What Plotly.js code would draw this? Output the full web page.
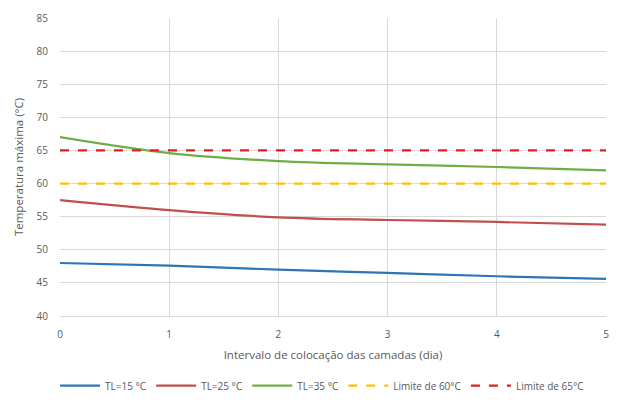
<!DOCTYPE html>
<html><head><meta charset="utf-8">
<script src="https://cdn.plot.ly/plotly-3.0.1.min.js"></script>
<style>html,body{margin:0;padding:0;background:#fff}#c{width:620px;height:407px}</style>
</head><body><div id="c"></div>
<script>
const days = [0, 1, 2, 3, 4, 5];
const tl15 = [48.0, 47.6, 47.0, 46.5, 46.0, 45.6];
const tl25 = [57.5, 56.0, 54.9, 54.5, 54.2, 53.8];
const tl35 = [67.0, 64.6, 63.4, 62.9, 62.5, 62.0];
const lim60 = [60, 60, 60, 60, 60, 60];
const lim65 = [65, 65, 65, 65, 65, 65];
const names = ['TL=15 °C', 'TL=25 °C', 'TL=35 °C', 'Limite de 60°C', 'Limite de 65°C'];
const colors = ['#2e75b6', '#c0504d', '#70ad47', '#ffc000', '#e02020'];
const series = [tl15, tl25, tl35, lim60, lim65];
const dashes = ['solid', 'solid', 'solid', 'dash', 'dash'];

const traces = series.map((s, i) => ({
  x: days, y: s, name: names[i], mode: 'lines',
  line: {color: colors[i], width: 2.2, dash: dashes[i], shape: i < 3 ? 'spline' : 'linear'}
}));

const layout = {
  width: 620, height: 407,
  margin: {l: 60, r: 14, t: 18, b: 91, autoexpand: false},
  paper_bgcolor: '#fff', plot_bgcolor: '#fff',
  font: {family: 'Open Sans, Liberation Sans, sans-serif', size: 10, color: '#595959'},
  showlegend: true,
  legend: {orientation: 'h', x: 0.48, xanchor: 'center', y: -0.185, yanchor: 'top',
           font: {size: 10}, itemwidth: 40, tracegroupgap: 0},
  xaxis: {
    range: [0, 5], dtick: 1, showgrid: true, gridcolor: '#d9d9d9', zeroline: false,
    showline: true, linecolor: '#d9d9d9', ticks: 'outside', ticklen: 9, tickcolor: 'rgba(0,0,0,0)',
    automargin: false,
    title: {text: 'Intervalo de colocação das camadas (dia)', font: {size: 11.5}, standoff: 10}
  },
  yaxis: {
    range: [40, 85], dtick: 5, showgrid: true, gridcolor: '#d9d9d9', zeroline: false,
    showline: false, ticks: 'outside', ticklen: 9, tickcolor: 'rgba(0,0,0,0)',
    automargin: false,
    title: {text: 'Temperatura máxima (°C)', font: {size: 11.5}, standoff: 10}
  }
};
Plotly.newPlot('c', traces, layout, {displayModeBar: false, staticPlot: true});
</script></body></html>
